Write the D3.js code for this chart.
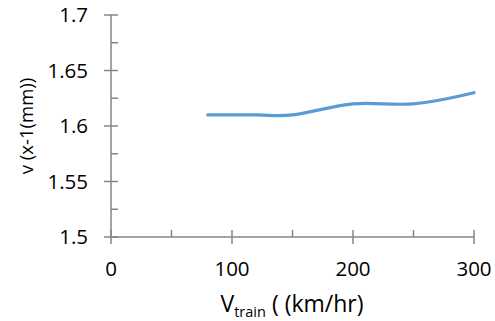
<!DOCTYPE html>
<html><head><meta charset="utf-8">
<script src="https://cdn.jsdelivr.net/npm/d3@7"></script>
<style>body{margin:0;background:#fff}svg{display:block}</style>
</head><body>
<script>
const speeds = [80, 120, 150, 200, 250, 300];
const deflection = [1.61, 1.61, 1.61, 1.62, 1.62, 1.63];
const xTicks = [0, 100, 200, 300];
const xMinorTicks = [50, 150, 250];
const yTicks = [1.5, 1.55, 1.6, 1.65, 1.7];
const yMinorTicks = [1.525, 1.575, 1.625, 1.675];

const W = 495, H = 321;
const svg = d3.select("body").append("svg").attr("width", W).attr("height", H);
const font = "Open Sans, Liberation Sans, Arial, sans-serif";
const x = d3.scaleLinear().domain([0, 300]).range([111, 474]);
const y = d3.scaleLinear().domain([1.5, 1.7]).range([237, 15]);
const axisCol = "#868686";

// y axis
svg.append("line").attr("x1", x(0)).attr("x2", x(0)).attr("y1", y(1.5)).attr("y2", y(1.7))
  .attr("stroke", axisCol).attr("stroke-width", 1.5);
yTicks.forEach(v => {
  svg.append("line").attr("x1", x(0) - 7).attr("x2", x(0) + 7).attr("y1", y(v)).attr("y2", y(v))
    .attr("stroke", axisCol).attr("stroke-width", 1.5);
  svg.append("text").attr("x", 88).attr("y", y(v)).attr("dy", "0.36em").attr("text-anchor", "end")
    .attr("font-family", font).attr("font-size", 20.5).attr("fill", "#000").text(String(v));
});
yMinorTicks.forEach(v => {
  svg.append("line").attr("x1", x(0)).attr("x2", x(0) + 7).attr("y1", y(v)).attr("y2", y(v))
    .attr("stroke", axisCol).attr("stroke-width", 1.5);
});
// x axis
svg.append("line").attr("x1", x(0)).attr("x2", x(300)).attr("y1", y(1.5)).attr("y2", y(1.5))
  .attr("stroke", axisCol).attr("stroke-width", 1.5);
xTicks.forEach(v => {
  svg.append("line").attr("x1", x(v)).attr("x2", x(v)).attr("y1", y(1.5) - 7).attr("y2", y(1.5) + 7)
    .attr("stroke", axisCol).attr("stroke-width", 1.5);
  svg.append("text").attr("x", x(v)).attr("y", 269).attr("dy", "0.36em").attr("text-anchor", "middle")
    .attr("font-family", font).attr("font-size", 20.5).attr("fill", "#000").text(String(v));
});
xMinorTicks.forEach(v => {
  svg.append("line").attr("x1", x(v)).attr("x2", x(v)).attr("y1", y(1.5) - 7).attr("y2", y(1.5))
    .attr("stroke", axisCol).attr("stroke-width", 1.5);
});

// line
const line = d3.line().x((d, i) => x(speeds[i])).y(d => y(d)).curve(d3.curveCatmullRom.alpha(0));
svg.append("path").datum(deflection).attr("d", line).attr("fill", "none")
  .attr("stroke", "#5B9BD5").attr("stroke-width", 3.2).attr("stroke-linecap", "round");

// axis titles
svg.append("text").attr("transform", "translate(33,126) rotate(-90)").attr("text-anchor", "middle")
  .attr("font-family", font).attr("font-size", 18.5).attr("fill", "#000").text("v (x-1(mm))");
const xt = svg.append("text").attr("x", 292).attr("y", 312).attr("text-anchor", "middle")
  .attr("font-family", font).attr("font-size", 23).attr("fill", "#000");
xt.append("tspan").text("V");
xt.append("tspan").attr("font-size", 14.5).attr("dy", 5).text("train");
xt.append("tspan").attr("dy", -5).text(" ( (km/hr)");
</script>
</body></html>
